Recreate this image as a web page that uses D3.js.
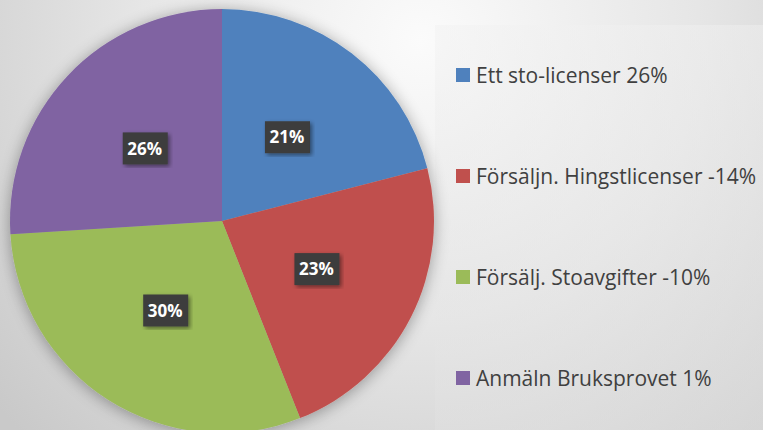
<!DOCTYPE html>
<html>
<head>
<meta charset="utf-8">
<script src="https://cdn.jsdelivr.net/npm/d3@7"></script>
<style>
  body { margin: 0; }
  svg { display: block; }
</style>
</head>
<body>
<svg id="chart" width="763" height="430"></svg>
<script>
const categories = ['Ett sto-licenser 26%', 'Försäljn. Hingstlicenser -14%', 'Försälj. Stoavgifter -10%', 'Anmäln Bruksprovet 1%'];
const shares = [21, 23, 30, 26];
const labels = ['21%', '23%', '30%', '26%'];
const colors = ['#4f81bd', '#c0504d', '#9bbb59', '#8064a2'];

const svg = d3.select('#chart');
const W = 763, H = 430;

const defs = svg.append('defs');
const bg = defs.append('radialGradient')
  .attr('id', 'bg')
  .attr('gradientUnits', 'userSpaceOnUse')
  .attr('cx', 420).attr('cy', 40).attr('r', 560);
bg.append('stop').attr('offset', '0%').attr('stop-color', '#fbfbfb');
bg.append('stop').attr('offset', '50%').attr('stop-color', '#e6e6e6');
bg.append('stop').attr('offset', '100%').attr('stop-color', '#c9c9c9');

const legBg = defs.append('linearGradient')
  .attr('id', 'legbg')
  .attr('x1', 0).attr('y1', 0).attr('x2', 0).attr('y2', 1);
legBg.append('stop').attr('offset', '0%').attr('stop-color', '#f1f1f1');
legBg.append('stop').attr('offset', '100%').attr('stop-color', '#e1e1e1');

const shadow = defs.append('filter').attr('id', 'shadow')
  .attr('x', '-20%').attr('y', '-20%').attr('width', '140%').attr('height', '140%');
shadow.append('feGaussianBlur').attr('in', 'SourceAlpha').attr('stdDeviation', 8);
shadow.append('feOffset').attr('dx', 0).attr('dy', 2).attr('result', 'b');
shadow.append('feComponentTransfer').append('feFuncA').attr('type', 'linear').attr('slope', 0.35);
const merge = shadow.append('feMerge');
merge.append('feMergeNode');
merge.append('feMergeNode').attr('in', 'SourceGraphic');

const lblShadow = defs.append('filter').attr('id', 'lblshadow');
lblShadow.append('feDropShadow').attr('dx', 2).attr('dy', 2).attr('stdDeviation', 2)
  .attr('flood-color', '#000').attr('flood-opacity', 0.45);

svg.append('rect').attr('width', W).attr('height', H).attr('fill', 'url(#bg)');
svg.append('rect')
  .attr('x', 435).attr('y', 25)
  .attr('width', W - 435).attr('height', H - 25)
  .attr('fill', 'url(#legbg)')
  .attr('opacity', 0.45);

const cx = 222, cy = 221, r = 212;

const pie = d3.pie().sort(null).value((d) => d);
const arc = d3.arc().innerRadius(0).outerRadius(r);
const arcs = pie(shares);

const chart = svg.append('g').attr('transform', `translate(${cx}, ${cy})`);

chart.append('g').attr('filter', 'url(#shadow)')
  .selectAll('path')
  .data(arcs)
  .enter()
  .append('path')
  .attr('d', arc)
  .attr('fill', (d, i) => colors[i]);

const lbl = chart.selectAll('.lbl')
  .data(arcs)
  .enter()
  .append('g')
  .attr('class', 'lbl')
  .attr('transform', (d) => `translate(${arc.centroid(d)})`);

lbl.append('rect')
  .attr('x', -22).attr('y', -16)
  .attr('width', 45).attr('height', 32)
  .attr('fill', '#3c3c3c')
  .attr('filter', 'url(#lblshadow)');

lbl.append('text')
  .attr('text-anchor', 'middle')
  .attr('dy', '0.36em')
  .attr('fill', '#ffffff')
  .attr('font-family', 'Open Sans, sans-serif')
  .attr('font-weight', 'bold')
  .attr('font-size', 17)
  .text((d, i) => labels[i]);

const legendY = d3.scalePoint()
  .domain(categories)
  .range([75, 378]);

const legend = svg.selectAll('.leg')
  .data(categories)
  .enter()
  .append('g')
  .attr('class', 'leg')
  .attr('transform', (d) => `translate(456, ${legendY(d)})`);

legend.append('rect')
  .attr('x', 0).attr('y', -7)
  .attr('width', 14).attr('height', 14)
  .attr('fill', (d, i) => colors[i]);

legend.append('text')
  .attr('x', 20)
  .attr('dy', '0.36em')
  .attr('fill', '#404040')
  .attr('font-family', 'Open Sans, sans-serif')
  .attr('font-size', 21)
  .text((d) => d);
</script>
</body>
</html>
